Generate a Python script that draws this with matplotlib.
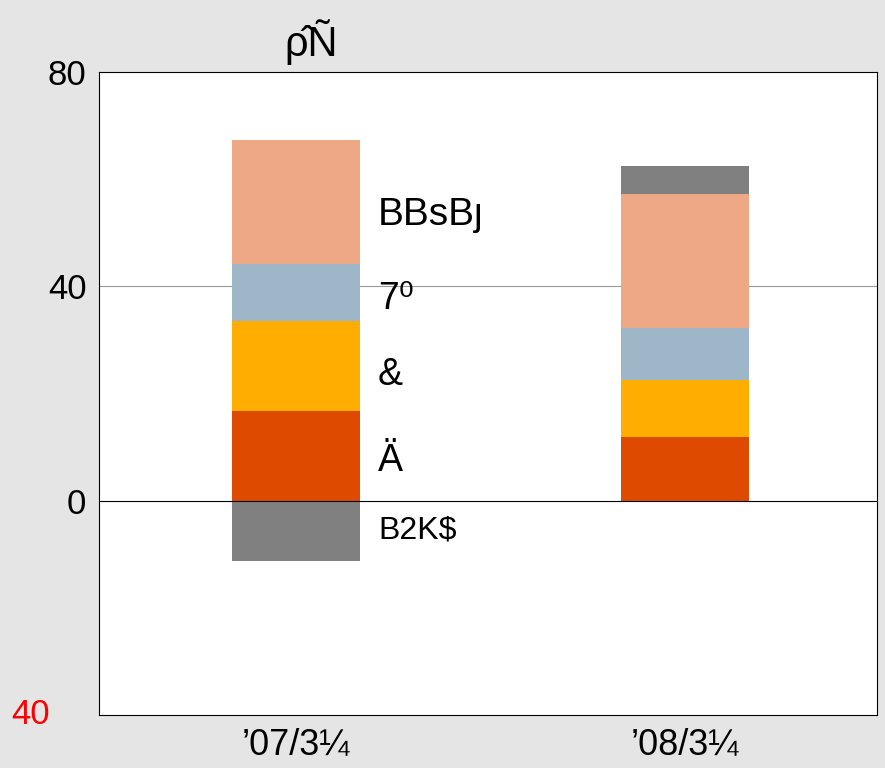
import matplotlib
matplotlib.use("Agg")
import matplotlib.pyplot as plt
import numpy as np

plt.rcParams['font.family'] = ['Liberation Sans', 'DejaVu Sans']

categories = ["’07/3¼", "’08/3¼"]
series_names = ["red", "orange", "blue", "salmon", "gray"]
red = [16.8, 11.8]
orange = [16.8, 10.8]
blue = [10.5, 9.7]
salmon = [23.2, 25.0]
gray = [-11.2, 5.2]
colors = ["#DD4A00", "#FFAE00", "#9DB7C8", "#EEA886", "#808080"]
seg_labels = ["Ä", "&", "7⁰", "BBsBȷ", "B2K$"]
seg_sizes = [27, 27, 27, 28, 23]
label_dy = [-1.0, -1.7, -1.3, -2.3, 0.0]
title_text = "ρ̂Ñ"
yticks = [0, 40, 80]
corner_text = "40"

fig = plt.figure(figsize=(8.85, 7.68), dpi=100, facecolor="#E5E5E5")
ax = fig.add_axes([99/885, 1-715/768, (877-99)/885, (715-72)/768])
ax.set_facecolor("white")

x = np.arange(1, len(categories)+1)
w = 0.33
pos_base = np.zeros(len(categories))
neg_base = np.zeros(len(categories))
series = [red, orange, blue, salmon, gray]
for vals, c in zip(series, colors):
    vals = np.array(vals)
    bottoms = np.where(vals >= 0, pos_base, neg_base)
    ax.bar(x, vals, w, bottom=bottoms, color=c, edgecolor="none", zorder=2)
    pos_base = pos_base + np.where(vals >= 0, vals, 0)
    neg_base = neg_base + np.where(vals < 0, vals, 0)

# segment labels for first bar
pb, nb = 0.0, 0.0
for i, vals in enumerate(series):
    v = vals[0]
    if v >= 0:
        mid = pb + v/2; pb += v
    else:
        mid = nb + v/2; nb += v
    ax.text(x[0] + 0.21, mid + label_dy[i], seg_labels[i], fontsize=seg_sizes[i],
            ha="left", va="center", zorder=3)

ax.set_xlim(0.493, 2.493)
ax.set_ylim(-40, 80)
ax.set_yticks(yticks)
ax.set_yticklabels([str(t) for t in yticks], fontsize=25)
ax.set_xticks(x)
ax.set_xticklabels(categories, fontsize=26)
ax.tick_params(length=0, pad=9)
ax.axhline(40, color="#999999", lw=0.8, zorder=1)
ax.axhline(0, color="black", lw=0.8, zorder=3)
for s in ax.spines.values():
    s.set_linewidth(0.8)
    s.set_color("black")

fig.text(311/885, 1-42/768, title_text, fontsize=30, ha="center", va="center")

fig.text(11/885, 1-714/768, corner_text, fontsize=25, color="red", ha="left", va="center")

fig.savefig("out.png", dpi=100, facecolor=fig.get_facecolor())
